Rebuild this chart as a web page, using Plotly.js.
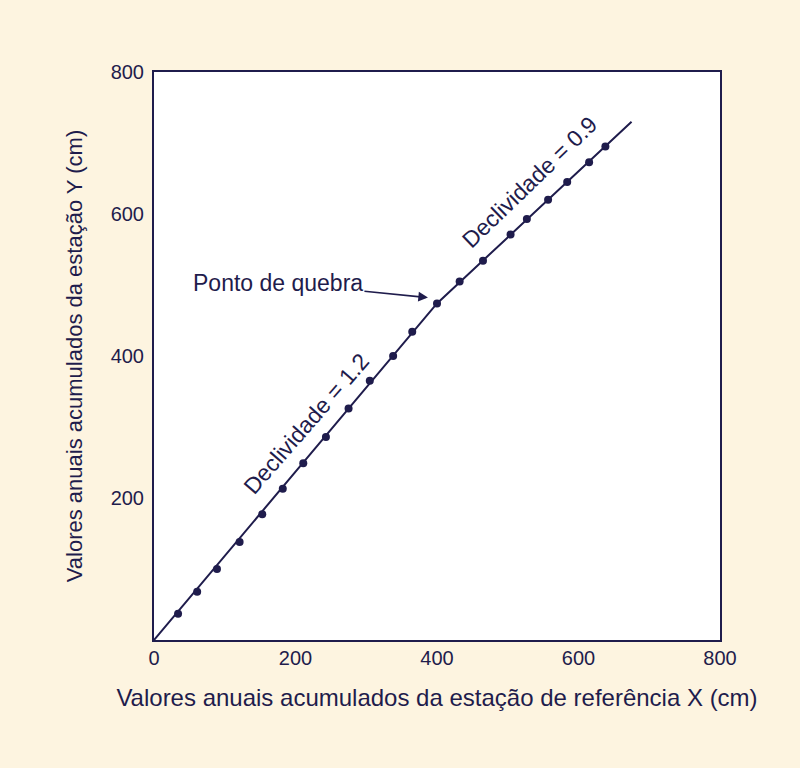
<!DOCTYPE html>
<html>
<head>
<meta charset="utf-8">
<script src="https://cdn.plot.ly/plotly-3.0.1.min.js"></script>
<style>html,body{margin:0;padding:0;background:#FDF4E0;}#chart{width:800px;height:768px;}</style>
</head>
<body>
<div id="chart"></div>
<script>
// Observed points (reference X vs. station Y, cumulative annual values, cm)
const pointsX = [34, 61, 89, 121, 153, 182, 211, 243, 275, 305, 338, 365, 400, 432, 465, 504, 527, 557, 584, 615, 638];
const pointsY = [37, 68, 100, 138, 177, 213, 249, 286, 326, 365, 400, 434, 474, 505, 534, 571, 593, 620, 645, 673, 695];
// Fitted double-mass line with break point
const lineX = [0, 400, 675];
const lineY = [0, 474, 730];
// Axis ticks
const xTicks = [0, 200, 400, 600, 800];
const yTicks = [200, 400, 600, 800];
const labelSlope1 = "Declividade = 1.2";
const labelSlope2 = "Declividade = 0.9";
const labelBreak = "Ponto de quebra";

const navy = "#1F1C4C";
const font = "Liberation Sans, Arial, Helvetica, sans-serif";

const traces = [
  {x: lineX, y: lineY, mode: "lines", line: {color: navy, width: 2}, hoverinfo: "skip"},
  {x: pointsX, y: pointsY, mode: "markers", marker: {color: navy, size: 8}}
];

const layout = {
  width: 800, height: 768,
  paper_bgcolor: "#FDF4E0",
  plot_bgcolor: "#FFFFFF",
  showlegend: false,
  margin: {l: 154, r: 80, t: 72, b: 128},
  font: {family: font, color: navy, size: 20},
  xaxis: {
    range: [0, 800], tickvals: xTicks, ticktext: xTicks.map(String),
    showgrid: false, zeroline: false, showline: true, mirror: true,
    linecolor: navy, linewidth: 2, ticks: "", ticklabelstandoff: -1,
    tickfont: {size: 20, color: navy},
    title: {text: "Valores anuais acumulados da estação de referência X (cm)", font: {size: 24, color: navy}, standoff: 21}
  },
  yaxis: {
    range: [0, 800], tickvals: yTicks, ticktext: yTicks.map(String),
    showgrid: false, zeroline: false, showline: true, mirror: true,
    linecolor: navy, linewidth: 2, ticks: "", ticklabelstandoff: 4,
    tickfont: {size: 20, color: navy},
    title: {text: "Valores anuais acumulados da estação Y (cm)", font: {size: 22, color: navy}, standoff: 22}
  },
  annotations: [
    {x: 215, y: 304, text: labelSlope1, showarrow: false, textangle: -49, font: {size: 23, color: navy}},
    {x: 531, y: 645, text: labelSlope2, showarrow: false, textangle: -44, font: {size: 23, color: navy}},
    {x: 390, y: 482, text: labelBreak, showarrow: true, ax: -152, ay: -15,
     arrowhead: 2, arrowsize: 1.2, arrowwidth: 1.6, arrowcolor: navy, standoff: 2,
     font: {size: 23, color: navy}}
  ]
};

Plotly.newPlot("chart", traces, layout, {displayModeBar: false, staticPlot: true});
</script>
</body>
</html>
